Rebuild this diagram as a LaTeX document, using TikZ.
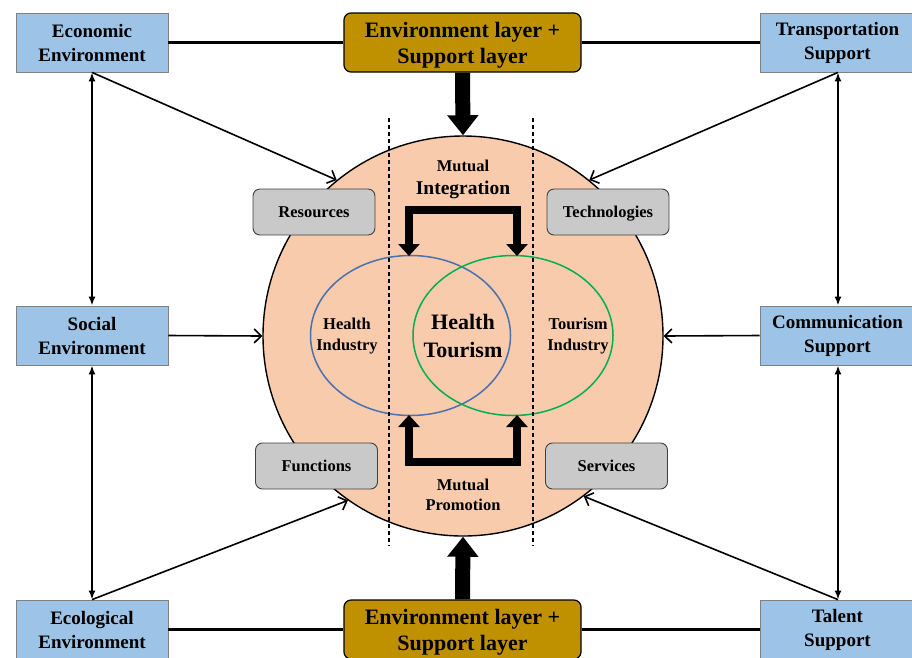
\documentclass[tikz,border=0pt]{standalone}
\usepackage{fontspec}
\setmainfont{Liberation Serif}
\usetikzlibrary{arrows.meta,shapes.geometric}
\definecolor{boxblue}{HTML}{9DC3E6}
\definecolor{goldfill}{HTML}{BF9000}
\definecolor{peach}{HTML}{F8CBAD}
\definecolor{graybox}{HTML}{C9C9C9}
\definecolor{ellblue}{HTML}{4A72AE}
\definecolor{ellgreen}{HTML}{00B050}
\begin{document}
\begin{tikzpicture}[x=1pt,y=-1pt,
 envbox/.style={draw=black!50, line width=0.8pt, fill=boxblue, minimum width=152pt, minimum height=59pt, inner sep=0pt, align=center, font=\fontsize{19}{24}\selectfont\bfseries},
 layerbox/.style={draw=black, line width=1.2pt, fill=goldfill, rounded corners=7pt, minimum width=237pt, minimum height=59pt, inner sep=0pt},
 layertext/.style={align=center, inner sep=0pt, font=\fontsize{22}{26}\selectfont\bfseries},
 facbox/.style={draw=black!75, line width=0.9pt, fill=graybox, rounded corners=7pt, minimum width=122pt, minimum height=46pt, inner sep=0pt, text height=11pt, text depth=0pt, font=\fontsize{16.5}{20}\selectfont\bfseries},
 smalltext/.style={align=center, font=\fontsize{16.5}{21}\selectfont\bfseries},
 thickline/.style={line width=3.5pt},
 twoway/.style={line width=2.2pt, {Latex[length=9pt,width=7pt]}-{Latex[length=9pt,width=7pt]}},
 thinarrow/.style={line width=1.6pt, -{Straight Barb[length=7pt,width=14pt]}},
 bigarrow/.style={line width=15pt, -{Triangle[length=20pt,width=30pt]}},
 bracket/.style={line width=8pt, line join=miter, {Triangle[length=12pt,width=21pt]}-{Triangle[length=12pt,width=21pt]}},
 divider/.style={dash pattern=on 4pt off 3pt, line width=1.2pt}
]
\useasboundingbox (0,0) rectangle (912,657);

% central circle
\node[circle, draw=black, line width=1.4pt, fill=peach, minimum size=400pt, inner sep=0pt] (C) at (463,336) {};

% ellipses
\node[ellipse, draw=ellblue, line width=1.5pt, minimum width=200pt, minimum height=160pt, inner sep=0pt] (HE) at (410.5,335.5) {};
\node[ellipse, draw=ellgreen, line width=1.5pt, minimum width=200pt, minimum height=160pt, inner sep=0pt] (TE) at (513,335.5) {};

% dividers
\coordinate (d1a) at (389,118); \coordinate (d1b) at (389,546);
\coordinate (d2a) at (533,118); \coordinate (d2b) at (533,546);
\draw[divider] (d1a) -- (d1b);
\draw[divider] (d2a) -- (d2b);

% texts in circle
\node[smalltext] (hi) at (347,336) {Health\\Industry};
\node[align=center, font=\fontsize{22}{28}\selectfont\bfseries] (ht) at (463,336) {Health\\Tourism};
\node[smalltext] (ti) at (578,336) {Tourism\\Industry};
\node[font=\fontsize{16.5}{20}\selectfont\bfseries] (mut1) at (463,166) {Mutual};
\node[font=\fontsize{19.5}{24}\selectfont\bfseries] (integ) at (463,190) {Integration};
\node[smalltext, font=\fontsize{16.5}{20}\selectfont\bfseries] (mprom) at (463,495) {Mutual\\Promotion};

% brackets
\coordinate (ta) at (409,256); \coordinate (tb) at (409,210);
\coordinate (tc) at (517,210); \coordinate (td) at (517,256);
\draw[bracket] (ta) -- (tb) -- (tc) -- (td);
\coordinate (ba) at (409,415); \coordinate (bb) at (409,462);
\coordinate (bc) at (517,462); \coordinate (bd) at (517,415);
\draw[bracket] (ba) -- (bb) -- (bc) -- (bd);

% factor boxes
\node[facbox] (res) at (314,212) {Resources};
\node[facbox] (tech) at (608,212) {Technologies};
\node[facbox] (fun) at (316.5,466) {Functions};
\node[facbox] (serv) at (606.5,466) {Services};

% outer boxes
\node[envbox] (econ) at (92,42.5) {Economic\\Environment};
\node[envbox] (social) at (92,335.5) {Social\\Environment};
\node[envbox] (eco) at (92,629.5) {Ecological\\Environment};
\node[envbox, minimum width=155pt] (trans) at (837.5,42.5) {Transportation\\Support};
\node[envbox, minimum width=155pt] (comm) at (837.5,335.5) {Communication\\Support};
\node[envbox, minimum width=155pt] (talent) at (837.5,629.5) {Talent\\Support};
\node[layerbox] (top) at (462.5,42.5) {};
\node[layertext] (toptext) at ([yshift=-3pt]top.center) {Environment layer +\\Support layer};
\node[layerbox] (bot) at (462.5,629.5) {};
\node[layertext] (bottext) at ([yshift=-3pt]bot.center) {Environment layer +\\Support layer};

% horizontal thick lines
\draw[thickline] (econ.east) -- (top.west);
\draw[thickline] (top.east) -- (trans.west);
\draw[thickline] (eco.east) -- (bot.west);
\draw[thickline] (bot.east) -- (talent.west);

% vertical two-way arrows
\draw[twoway] (econ.south) -- (social.north);
\draw[twoway] (social.south) -- (eco.north);
\draw[twoway] ([xshift=0.5pt]trans.south) -- ([xshift=0.5pt]comm.north);
\draw[twoway] ([xshift=0.5pt]comm.south) -- ([xshift=0.5pt]talent.north);

% thin arrows to circle
\draw[thinarrow] (econ.south) -- (C.129);
\draw[thinarrow] ([xshift=0.5pt]trans.south) -- (C.51);
\draw[thinarrow] (social.east) -- (C.west);
\draw[thinarrow] (comm.west) -- (C.east);
\draw[thinarrow] (eco.north) -- (C.235);
\draw[thinarrow] ([xshift=0.5pt]talent.north) -- (C.307);

% big arrows
\draw[bigarrow] (top.south) -- (C.north);
\draw[bigarrow] (bot.north) -- (C.south);
\end{tikzpicture}
\end{document}
